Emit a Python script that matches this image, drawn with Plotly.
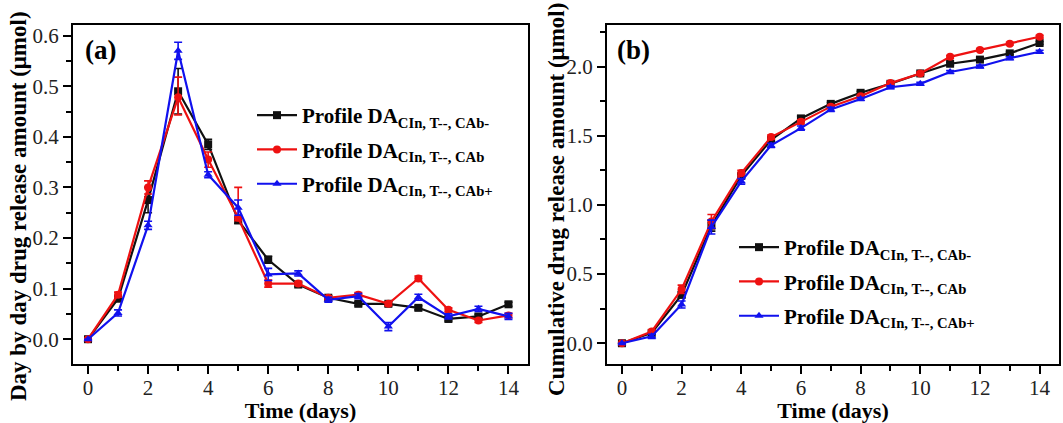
import plotly.graph_objects as go

days = list(range(15))

# Panel (a): day by day release (µmol)
a_black = [0, 0.08, 0.275, 0.49, 0.385, 0.235, 0.157, 0.108, 0.082, 0.07, 0.07, 0.062, 0.04, 0.045, 0.069]
a_red = [0, 0.088, 0.30, 0.478, 0.355, 0.24, 0.11, 0.11, 0.082, 0.088, 0.07, 0.12, 0.058, 0.037, 0.047]
a_blue = [0, 0.052, 0.225, 0.57, 0.325, 0.26, 0.128, 0.13, 0.078, 0.085, 0.025, 0.083, 0.045, 0.06, 0.045]
a_black_err = [0, 0.005, 0.025, 0.045, 0.01, 0.006, 0.007, 0.004, 0.004, 0.004, 0.004, 0.004, 0.004, 0.004, 0.004]
a_red_err_plus = [0, 0.005, 0.013, 0.04, 0.015, 0.06, 0.007, 0.004, 0.004, 0.004, 0.004, 0.005, 0.004, 0.004, 0.004]
a_red_err_minus = [0, 0.005, 0.013, 0.035, 0.015, 0.006, 0.007, 0.004, 0.004, 0.004, 0.004, 0.005, 0.004, 0.004, 0.004]
a_blue_err = [0, 0.006, 0.008, 0.017, 0.006, 0.015, 0.012, 0.005, 0.005, 0.005, 0.008, 0.006, 0.005, 0.005, 0.006]

# Panel (b): cumulative release (µmol)
b_black = [0, 0.075, 0.35, 0.85, 1.21, 1.47, 1.625, 1.73, 1.81, 1.875, 1.95, 2.02, 2.05, 2.095, 2.17]
b_red = [0, 0.085, 0.39, 0.88, 1.23, 1.49, 1.60, 1.71, 1.785, 1.88, 1.95, 2.07, 2.12, 2.165, 2.215]
b_blue = [0, 0.05, 0.28, 0.84, 1.17, 1.43, 1.555, 1.69, 1.765, 1.85, 1.875, 1.96, 2.0, 2.06, 2.107]
b_black_err = [0, 0.01, 0.02, 0.04, 0.015, 0.015, 0.015, 0.01, 0.01, 0.01, 0.01, 0.01, 0.01, 0.01, 0.01]
b_red_err = [0, 0.01, 0.03, 0.05, 0.02, 0.015, 0.015, 0.01, 0.01, 0.01, 0.01, 0.01, 0.01, 0.01, 0.01]
b_blue_err = [0, 0.015, 0.025, 0.05, 0.02, 0.015, 0.015, 0.015, 0.01, 0.01, 0.01, 0.01, 0.01, 0.01, 0.01]

names = [
    "<b>Profile DA<sub>CIn, T--, CAb-</sub></b>",
    "<b>Profile DA<sub>CIn, T--, CAb</sub></b>",
    "<b>Profile DA<sub>CIn, T--, CAb+</sub></b>",
]
colors = ["#111111", "#ee1111", "#1111ee"]
symbols = ["square", "circle", "triangle-up"]

FONT = "Liberation Serif, Times New Roman, serif"
W, H = 1063, 423

fig = go.Figure()

a_series = [(a_black, a_black_err, a_black_err), (a_red, a_red_err_plus, a_red_err_minus), (a_blue, a_blue_err, a_blue_err)]
for i, (ys, ep, em) in enumerate(a_series):
    fig.add_trace(go.Scatter(
        x=days, y=ys, mode="lines+markers", name=names[i],
        line=dict(color=colors[i], width=2.2),
        marker=dict(symbol=symbols[i], size=8, color=colors[i]),
        error_y=dict(type="data", array=ep, arrayminus=em, symmetric=False,
                     color=colors[i], thickness=1.6, width=4),
        xaxis="x", yaxis="y", legend="legend", legendgroup="a%d" % i,
    ))

b_series = [(b_black, b_black_err), (b_red, b_red_err), (b_blue, b_blue_err)]
for i, (ys, e) in enumerate(b_series):
    fig.add_trace(go.Scatter(
        x=days, y=ys, mode="lines+markers", name=names[i],
        line=dict(color=colors[i], width=2.2),
        marker=dict(symbol=symbols[i], size=8, color=colors[i]),
        error_y=dict(type="data", array=e, color=colors[i], thickness=1.6, width=4),
        xaxis="x2", yaxis="y2", legend="legend2", legendgroup="b%d" % i,
    ))

ydom = [1 - 364 / H, 1 - 25 / H]
axis_common = dict(
    showline=True, linecolor="black", linewidth=2, mirror=True,
    ticks="outside", ticklen=8, tickwidth=2, tickcolor="black",
    showgrid=False, zeroline=False, automargin=False,
    tickfont=dict(family=FONT, size=21, color="#222"),
)
xtitle_font = dict(family=FONT, size=22, color="black")
ytitle_font = dict(family=FONT, size=23, color="black")
minor_common = dict(ticks="outside", ticklen=5, tickwidth=2, tickcolor="black", showgrid=False)

fig.update_layout(
    width=W, height=H,
    margin=dict(l=0, r=0, t=0, b=0, autoexpand=False),
    paper_bgcolor="white", plot_bgcolor="white",
    font=dict(family=FONT, color="black"),
    xaxis=dict(domain=[73 / W, 528 / W], range=[-0.5, 14.65], anchor="y",
               tickmode="array", tickvals=list(range(0, 15, 2)), ticklabelstandoff=-4,
               minor=dict(tickvals=list(range(1, 15, 2)), **minor_common),
               title=dict(text="<b>Time (days)</b>", standoff=6, font=xtitle_font), **axis_common),
    yaxis=dict(domain=ydom, range=[-0.049, 0.621], anchor="x",
               tickmode="array", tickvals=[0, 0.1, 0.2, 0.3, 0.4, 0.5, 0.6],
               ticktext=["0.0", "0.1", "0.2", "0.3", "0.4", "0.5", "0.6"],
               minor=dict(tickvals=[0.05, 0.15, 0.25, 0.35, 0.45, 0.55], **minor_common),
               **axis_common),
    xaxis2=dict(domain=[607 / W, 1059 / W], range=[-0.5, 14.65], anchor="y2",
                tickmode="array", tickvals=list(range(0, 15, 2)), ticklabelstandoff=-4,
                minor=dict(tickvals=list(range(1, 15, 2)), **minor_common),
                title=dict(text="<b>Time (days)</b>", standoff=6, font=xtitle_font), **axis_common),
    yaxis2=dict(domain=ydom, range=[-0.15, 2.30], anchor="x2",
                tickmode="array", tickvals=[0, 0.5, 1.0, 1.5, 2.0],
                ticktext=["0.0", "0.5", "1.0", "1.5", "2.0"],
                minor=dict(tickvals=[0.25, 0.75, 1.25, 1.75, 2.25], **minor_common),
                **axis_common),
    legend=dict(x=252 / W, y=1 - 95 / H, xanchor="left", yanchor="top",
                bgcolor="rgba(0,0,0,0)", font=dict(family=FONT, size=21, color="black"),
                traceorder="grouped", tracegroupgap=4, itemwidth=40),
    legend2=dict(x=734 / W, y=1 - 227 / H, xanchor="left", yanchor="top",
                 bgcolor="rgba(0,0,0,0)", font=dict(family=FONT, size=21, color="black"),
                 traceorder="grouped", tracegroupgap=4, itemwidth=40),
    annotations=[
        dict(text="<b>(a)</b>", x=83 / W, y=1 - 50 / H, xref="paper", yref="paper",
             xanchor="left", yanchor="middle", showarrow=False,
             font=dict(family=FONT, size=27, color="black")),
        dict(text="<b>(b)</b>", x=615 / W, y=1 - 50 / H, xref="paper", yref="paper",
             xanchor="left", yanchor="middle", showarrow=False,
             font=dict(family=FONT, size=27, color="black")),
        dict(text="<b>Day by day drug release amount (\u03bcmol)</b>", textangle=-90,
             x=18 / W, y=1 - 206 / H, xref="paper", yref="paper",
             xanchor="center", yanchor="middle", showarrow=False, font=ytitle_font),
        dict(text="<b>Cumulative drug release amount (\u03bcmol)</b>", textangle=-90,
             x=556 / W, y=1 - 200 / H, xref="paper", yref="paper",
             xanchor="center", yanchor="middle", showarrow=False, font=ytitle_font),
    ],
)

fig.write_html("out.html", config={"displayModeBar": False},
               post_script="document.body.style.margin='0';document.body.style.padding='0';")
